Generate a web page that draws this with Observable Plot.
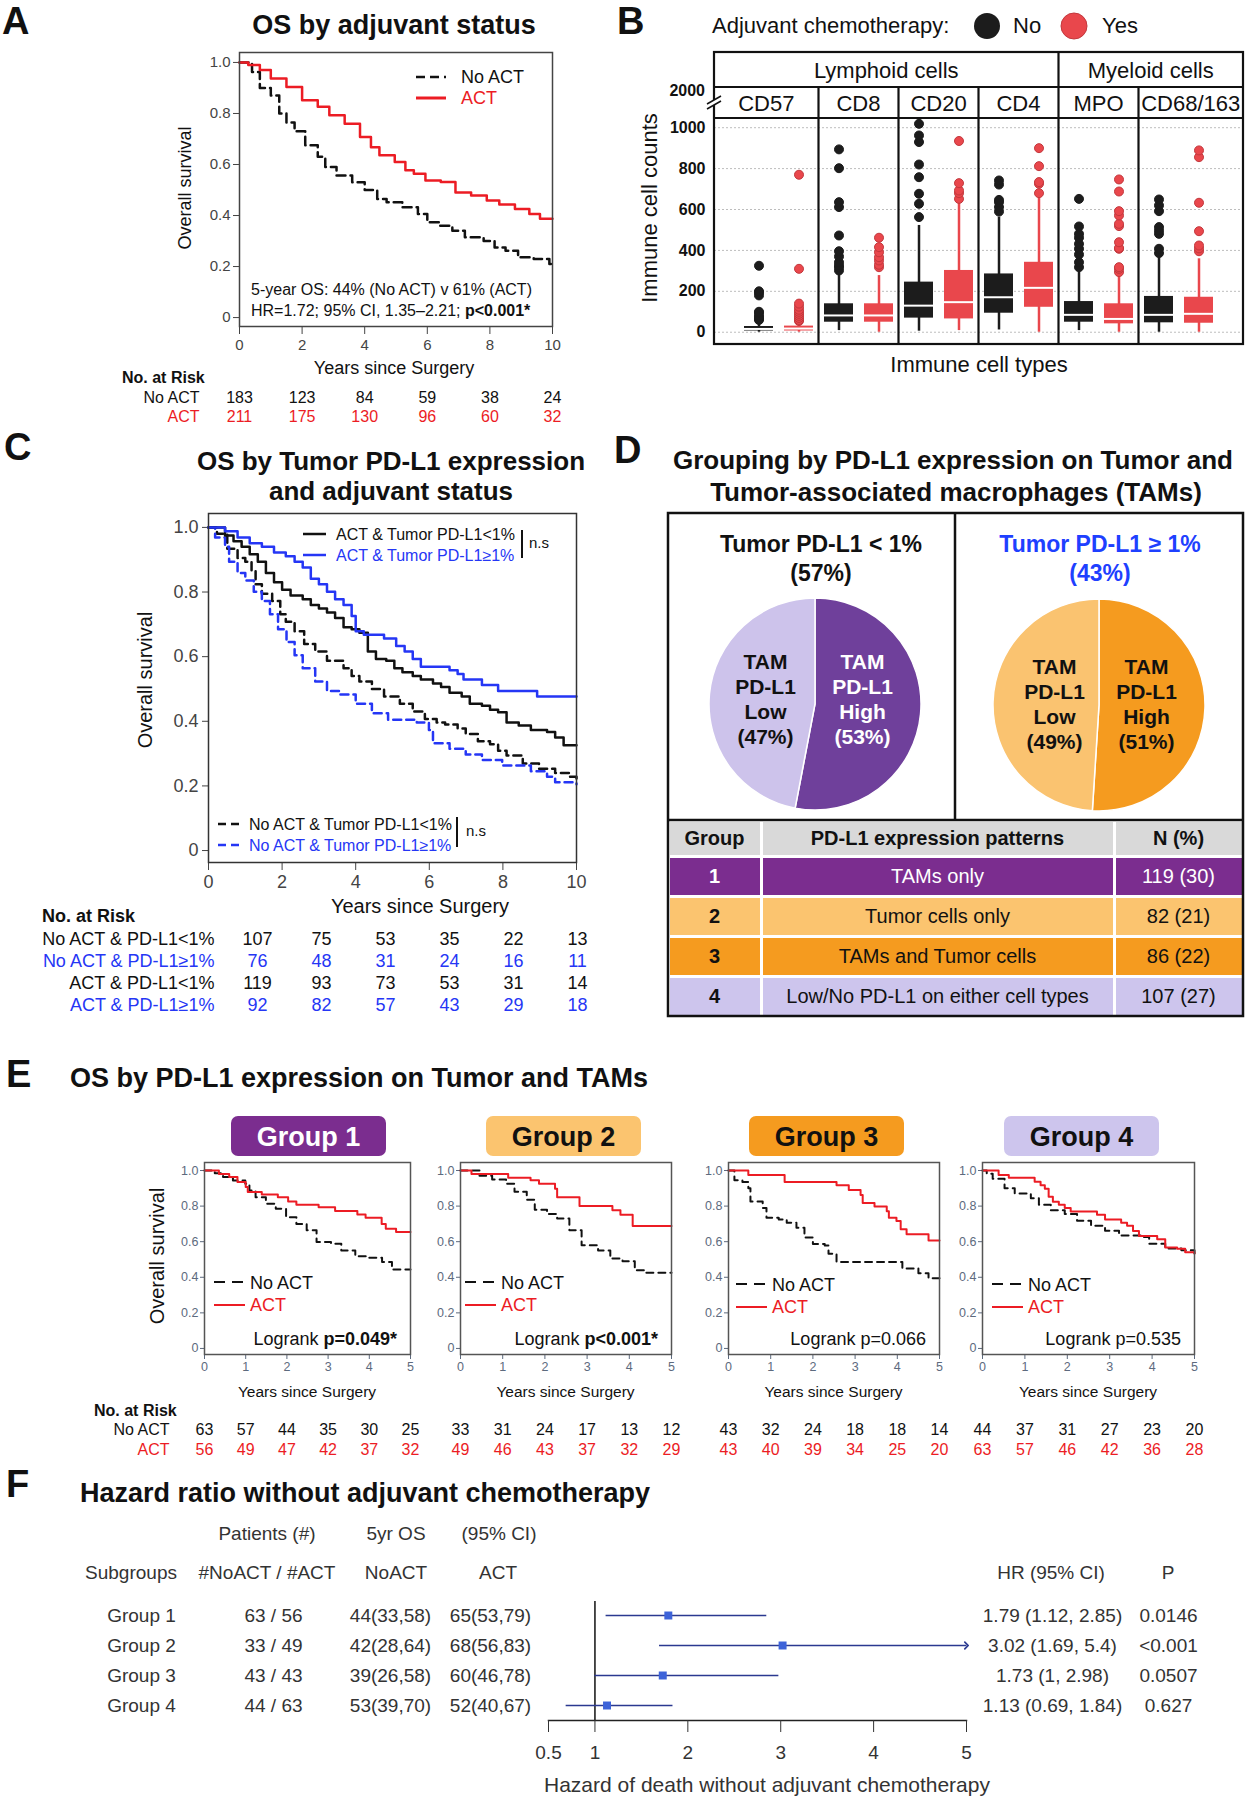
<!DOCTYPE html>
<html>
<head>
<meta charset="utf-8">
<script src="https://cdn.jsdelivr.net/npm/d3@7"></script>
<script src="https://cdn.jsdelivr.net/npm/@observablehq/plot@0.6"></script>
<style>
html,body{margin:0;padding:0;background:#fff;}
#root{position:relative;width:1248px;height:1800px;background:#fff;overflow:hidden;font-family:"Liberation Sans",Arial,Helvetica,sans-serif;}
#root > svg, #root > div{position:absolute;}
</style>
</head>
<body>
<div id="root"></div>
<script>
// ====================== DATA ======================
// ---- Panel A: OS by adjuvant status (KM) ----
const aTimesNoACT = [0,0.4,0.65,1.0,1.27,1.5,1.76,2.1,2.5,2.74,3.1,3.6,4.0,4.4,4.7,5.2,5.7,6.0,6.4,6.8,7.2,7.8,8.15,8.5,8.9,9.4,9.9,10];
const aSurvNoACT  = [1,0.963,0.90,0.87,0.80,0.765,0.73,0.675,0.63,0.59,0.557,0.53,0.50,0.465,0.452,0.432,0.406,0.374,0.36,0.34,0.315,0.30,0.275,0.262,0.236,0.23,0.21,0.21];
const aTimesACT   = [0,0.28,0.65,1.0,1.5,2.0,2.5,2.87,3.36,3.85,4.2,4.47,4.96,5.3,5.57,5.94,6.43,6.9,7.4,7.9,8.3,8.8,9.26,9.6,10];
const aSurvACT    = [1,0.99,0.97,0.937,0.904,0.852,0.826,0.793,0.76,0.708,0.668,0.636,0.61,0.577,0.564,0.537,0.531,0.49,0.478,0.459,0.443,0.426,0.406,0.387,0.387];
const aRiskTimes  = [0,2,4,6,8,10];
const aRiskNoACT  = [183,123,84,59,38,24];
const aRiskACT    = [211,175,130,96,60,32];

// ---- Panel B: immune cell counts (box stats) ----
const bCells  = ["CD57","CD8","CD20","CD4","MPO","CD68/163"];
const bLineages = ["Lymphoid cells","Myeloid cells"];
const bLineageSize = [4,2];
const bGroups = ["No","Yes"];
// order: CD57-No, CD57-Yes, CD8-No, CD8-Yes, CD20-No, CD20-Yes, CD4-No, CD4-Yes, MPO-No, MPO-Yes, CD68-No, CD68-Yes
const bLow  = [0,0,8,0,5,8,11,0,8,0,0,0];
const bQ1   = [6,6,49,49,69,65,93,122,49,41,46,44];
const bMed  = [16,18,82,82,130,147,171,217,85,65,85,90];
const bQ3   = [28,30,139,139,245,302,285,342,150,139,175,171];
const bHigh = [50,50,285,277,522,631,563,660,310,295,383,359];
const bOutliers = [
  [60,65,75,80,95,100,180,195,200,325],
  [55,60,70,80,90,100,110,125,140,310,770],
  [302,318,326,342,370,396,473,612,636,802,894],
  [318,330,351,367,391,416,462],
  [563,628,677,758,820,930,962,1019],
  [652,680,693,729,935],
  [590,612,636,647,722,742],
  [680,726,734,812,900],
  [318,342,380,408,432,462,481,517,652],
  [294,310,318,408,412,440,519,530,571,592,688,747],
  [387,408,481,497,514,592,620,649],
  [396,410,424,494,633,856,889]
];
const bYTicks = [0,200,400,600,800,1000];

// ---- Panel C: OS by tumor PD-L1 and adjuvant status ----
const cActLowT  = [0,0.34,0.45,0.68,0.9,1.12,1.34,1.56,1.78,2.0,2.23,2.56,2.78,3.0,3.22,3.44,3.67,3.89,4.1,4.33,4.55,4.83,5.05,5.27,5.55,5.77,6.1,6.32,6.55,6.88,7.1,7.43,7.65,7.87,8.1,8.43,8.76,9.2,9.42,9.65,10];
const cActLowS  = [1,1,0.975,0.957,0.94,0.917,0.894,0.859,0.83,0.807,0.789,0.778,0.76,0.749,0.737,0.72,0.691,0.685,0.674,0.616,0.593,0.587,0.564,0.552,0.54,0.529,0.517,0.506,0.488,0.477,0.454,0.448,0.436,0.428,0.396,0.387,0.373,0.367,0.35,0.326,0.326];
const cActHighT = [0,0.45,0.79,1.12,1.45,1.78,2.1,2.34,2.56,2.78,3.0,3.22,3.44,3.67,3.89,4.0,4.22,4.77,5.1,5.33,5.55,5.77,6.55,6.77,6.93,7.43,7.87,8.93,10];
const cActHighS = [1,0.988,0.969,0.951,0.94,0.922,0.911,0.894,0.876,0.841,0.824,0.801,0.778,0.76,0.726,0.679,0.668,0.656,0.633,0.616,0.593,0.569,0.558,0.546,0.529,0.512,0.494,0.477,0.477];
const cNoLowT   = [0,0.23,0.51,0.79,1.0,1.17,1.28,1.45,1.73,1.95,2.1,2.34,2.6,2.9,3.22,3.67,3.89,4.1,4.44,4.77,5.2,5.55,5.88,6.2,6.43,6.77,6.99,7.32,7.65,7.87,8.1,8.54,8.98,9.42,9.8,10];
const cNoLowS   = [1,0.98,0.934,0.905,0.894,0.865,0.824,0.795,0.772,0.731,0.708,0.679,0.639,0.616,0.587,0.564,0.54,0.523,0.5,0.477,0.454,0.43,0.407,0.396,0.39,0.378,0.361,0.338,0.329,0.309,0.294,0.269,0.253,0.24,0.228,0.216];
const cNoHighT  = [0,0.18,0.45,0.56,0.79,1.0,1.23,1.45,1.67,1.89,2.12,2.34,2.56,2.9,3.22,3.55,4.0,4.44,4.88,5.66,5.99,6.1,6.55,6.99,7.43,7.98,8.76,9.2,9.42,10];
const cNoHighS  = [1,0.969,0.94,0.894,0.859,0.836,0.801,0.772,0.731,0.685,0.645,0.604,0.564,0.523,0.494,0.483,0.454,0.425,0.405,0.396,0.373,0.332,0.315,0.297,0.28,0.263,0.245,0.228,0.211,0.205];
const cRiskNames = ["No ACT & PD-L1<1%","No ACT & PD-L1≥1%","ACT & PD-L1<1%","ACT & PD-L1≥1%"];
const cRiskTimes = [0,2,4,6,8,10];
const cRiskCounts = [[107,75,53,35,22,13],[76,48,31,24,16,11],[119,93,73,53,31,14],[92,82,57,43,29,18]];

// ---- Panel D: grouping ----
const dPieTitles = ["Tumor PD-L1 < 1%","Tumor PD-L1 ≥ 1%"];
const dPieShares = [57,43];
const dSliceNames = ["High","Low"];
const dLeftPct  = [53,47];
const dRightPct = [51,49];
const dGroupIds = [1,2,3,4];
const dPatterns = ["TAMs only","Tumor cells only","TAMs and Tumor cells","Low/No PD-L1 on either cell types"];
const dN   = [119,82,86,107];
const dPct = [30,21,22,27];
const dHeader = ["Group","PD-L1 expression patterns","N (%)"];

// ---- Panel E: OS by group (KM, 5 years) ----
const eGroupNames = ["Group 1","Group 2","Group 3","Group 4"];
const e1ActT = [0,0.35,0.6,0.8,1.0,1.05,1.39,1.78,2.03,2.23,2.77,3.17,3.71,3.91,4.3,4.4,4.65,5];
const e1ActS = [1,0.98,0.963,0.935,0.907,0.879,0.865,0.85,0.826,0.807,0.794,0.772,0.753,0.735,0.70,0.673,0.654,0.654];
const e1NoT  = [0,0.25,0.45,0.69,0.99,1.09,1.24,1.49,1.73,1.98,2.23,2.48,2.72,3.07,3.32,3.66,3.96,4.31,4.55,5];
const e1NoS  = [1,0.985,0.963,0.944,0.925,0.888,0.85,0.813,0.785,0.738,0.70,0.664,0.598,0.589,0.551,0.518,0.51,0.486,0.443,0.443];
const e2ActT = [0,0.26,1.13,1.66,1.86,2.24,2.29,2.82,3.6,3.79,4.08,5];
const e2ActS = [1,0.98,0.96,0.945,0.925,0.897,0.85,0.80,0.776,0.752,0.688,0.688];
const e2NoT  = [0,0.45,0.75,1.08,1.28,1.57,1.76,2.05,2.29,2.58,2.87,3.26,3.55,3.84,4.13,4.37,5];
const e2NoS  = [1,0.97,0.95,0.925,0.88,0.835,0.78,0.755,0.73,0.664,0.58,0.551,0.505,0.49,0.44,0.426,0.426];
const e3ActT = [0,0.47,1.33,2.56,2.85,3.13,3.18,3.46,3.75,3.8,3.98,4.08,4.22,4.74,5];
const e3ActS = [1,0.975,0.936,0.917,0.89,0.862,0.817,0.798,0.771,0.734,0.716,0.67,0.642,0.606,0.606];
const e3NoT  = [0,0.14,0.33,0.47,0.52,0.81,0.9,1.19,1.38,1.61,1.8,2.0,2.28,2.37,2.56,4.12,4.5,4.74,5];
const e3NoS  = [1,0.945,0.936,0.9,0.826,0.789,0.734,0.725,0.706,0.679,0.624,0.587,0.578,0.532,0.486,0.45,0.422,0.394,0.394];
const e4ActT = [0,0.38,0.62,1.23,1.37,1.47,1.56,1.66,1.8,1.94,2.08,2.7,2.89,3.27,3.41,3.55,3.69,4.12,4.31,4.59,4.78,5];
const e4ActS = [1,0.975,0.96,0.937,0.917,0.898,0.853,0.825,0.807,0.789,0.77,0.751,0.725,0.707,0.69,0.66,0.632,0.614,0.567,0.56,0.54,0.534];
const e4NoT  = [0,0.1,0.24,0.52,0.76,1.14,1.33,1.61,1.94,2.23,2.56,2.89,3.22,3.74,3.93,4.31,4.69,5];
const e4NoS  = [1,0.982,0.954,0.9,0.871,0.844,0.807,0.777,0.755,0.718,0.69,0.662,0.635,0.626,0.589,0.562,0.552,0.534];
const eRiskTimes = [0,1,2,3,4,5];
const eRiskNoACT = [[63,57,44,35,30,25],[33,31,24,17,13,12],[43,32,24,18,18,14],[44,37,31,27,23,20]];
const eRiskACT   = [[56,49,47,42,37,32],[49,46,43,37,32,29],[43,40,39,34,25,20],[63,57,46,42,36,28]];
const eLogrankP    = ["p=0.049*","p<0.001*","p=0.066","p=0.535"];
const eLogrankSig  = [true,true,false,false];

// ---- Panel F: forest plot ----
const fGroups   = ["Group 1","Group 2","Group 3","Group 4"];
const fPatients = ["63 / 56","33 / 49","43 / 43","44 / 63"];
const fOSNoACT  = ["44(33,58)","42(28,64)","39(26,58)","53(39,70)"];
const fOSACT    = ["65(53,79)","68(56,83)","60(46,78)","52(40,67)"];
const fHR = [1.79,3.02,1.73,1.13];
const fLo = [1.12,1.69,1,0.69];
const fHi = [2.85,5.4,2.98,1.84];
const fP  = ["0.0146","<0.001","0.0507","0.627"];
const fTicks = [0.5,1,2,3,4,5];

// ====================== STYLE ======================
const FONT = "'Liberation Sans', Arial, Helvetica, sans-serif";
const RED = "#ec1c24", BLUE = "#2536f5", INK = "#111";
const B_NO = "#1c1c1c", B_YES = "#e9474c", B_YES_EDGE = "#c3383d";
const groupFill = ["#7b2d8f","#fbc46f","#f59b1f","#cdc5ed"];
const groupInk  = ["#fff","#111","#111","#111"];
const survTicks = [0,0.2,0.4,0.6,0.8,1];
const fmtSurv = d => d === 0 ? "0" : d.toFixed(1);
const fmtPlain = d => String(d);
const baseStyle = {background: "transparent", fontFamily: FONT, overflow: "visible", color: "#222"};

const root = document.getElementById("root");
function put(node, left, top) {
  node.style.position = "absolute"; node.style.left = left + "px"; node.style.top = top + "px";
  root.appendChild(node); return node;
}
function km(times, surv) { return times.map((t, i) => ({t, s: surv[i]})); }

// overlay for titles / legends
const ov = d3.create("svg").attr("width", 1248).attr("height", 1800).attr("font-family", FONT)
  .style("position", "absolute").style("left", "0px").style("top", "0px").style("overflow", "visible");
function text(x, y, s, o = {}) {
  const t = ov.append("text").attr("x", x).attr("y", y)
    .attr("font-size", o.size || 16).attr("font-weight", o.bold ? "bold" : "normal")
    .attr("text-anchor", o.anchor || "start").attr("fill", o.color || INK);
  if (Array.isArray(s)) s.forEach(([str, b]) => t.append("tspan").attr("font-weight", b ? "bold" : "normal").text(str));
  else t.text(s);
  if (o.rotate) t.attr("transform", `rotate(${o.rotate},${x},${y})`);
  return t;
}
function seg(x1, y1, x2, y2, o = {}) {
  ov.append("line").attr("x1", x1).attr("y1", y1).attr("x2", x2).attr("y2", y2)
    .attr("stroke", o.color || INK).attr("stroke-width", o.width || 2)
    .attr("stroke-dasharray", o.dash || null);
}
function box(x, y, w, h, o = {}) {
  ov.append("rect").attr("x", x).attr("y", y).attr("width", w).attr("height", h)
    .attr("rx", o.rx || 0).attr("fill", o.fill || "none")
    .attr("stroke", o.stroke || "none").attr("stroke-width", o.width || 0);
}

// generic KM chart placed so its frame lands at [fx0,fx1]x[fy0,fy1]
function kmChart(o) {
  const mL = 60, mR = 20, mT = 10, mB = 45;
  const width = mL + (o.fx1 - o.fx0) + mR, height = mT + (o.fy1 - o.fy0) + mB;
  const p = Plot.plot({
    width, height, marginLeft: mL, marginRight: mR, marginTop: mT, marginBottom: mB,
    x: {domain: [0, o.xMax]}, y: {domain: o.yDomain}, style: baseStyle,
    marks: [
      Plot.axisY({ticks: survTicks, tickFormat: fmtSurv, tickSize: o.yTickSize, tickPadding: o.yPad, fontSize: o.font, color: o.tickColor, label: null}),
      Plot.axisX({ticks: o.xTicks, tickFormat: fmtPlain, tickSize: o.xTickSize, tickPadding: o.xPad, fontSize: o.font, color: o.tickColor, label: null}),
      ...o.lines.map(l => Plot.line(l.data, {x: "t", y: "s", curve: "step-after", stroke: l.color, strokeWidth: l.width, strokeDasharray: l.dash || null})),
      Plot.frame({stroke: o.frame, strokeWidth: 1.5})
    ]
  });
  put(p, o.fx0 - mL, o.fy0 - mT);
  return p;
}
// risk table aligned to an x range
function riskChart(o) {
  const mL = 60, mR = 20;
  const width = mL + (o.x1 - o.x0) + mR;
  const rowsData = o.rows.flatMap(r => o.times.map((t, i) => ({row: r.name, t, n: r.counts[i], color: r.color})));
  const marks = [Plot.text(rowsData, {x: "t", y: "row", text: "n", fill: "color", fontSize: o.font})];
  if (o.labelDx != null) marks.push(Plot.text(o.rows, {y: "name", text: "name", fill: "color", frameAnchor: "left", dx: o.labelDx, textAnchor: "end", fontSize: o.font}));
  const p = Plot.plot({
    width, height: o.height, marginLeft: mL, marginRight: mR, marginTop: 0, marginBottom: 0,
    x: {domain: [0, o.xMax], axis: null},
    y: {type: "point", domain: o.rows.map(r => r.name), range: o.yRange, padding: 0, axis: null},
    color: {type: "identity"}, style: baseStyle, marks
  });
  put(p, o.x0 - mL, o.top);
}

// ====================== PANEL A ======================
text(2, 34, "A", {size: 38, bold: true});
text(394, 34, "OS by adjuvant status", {size: 27, bold: true, anchor: "middle"});
kmChart({fx0: 239, fx1: 552, fy0: 52, fy1: 326, xMax: 10, xTicks: aRiskTimes, yDomain: [-0.035, 1.039],
  yTickSize: 6, yPad: 3, xTickSize: 8, xPad: 5, font: 15, tickColor: "#444", frame: "#444",
  lines: [
    {data: km(aTimesNoACT, aSurvNoACT), color: "#111", width: 2.5, dash: "9,5"},
    {data: km(aTimesACT, aSurvACT), color: RED, width: 2.5}
  ]});
text(191, 188, "Overall survival", {size: 18, anchor: "middle", rotate: -90});
text(394, 374, "Years since Surgery", {size: 18, anchor: "middle"});
seg(416, 77, 446, 77, {dash: "9,5", width: 2.5});
text(461, 83, "No ACT", {size: 18});
seg(416, 98, 446, 98, {color: RED, width: 3});
text(461, 104, "ACT", {size: 18, color: RED});
text(251, 295, "5-year OS: 44% (No ACT) v 61% (ACT)", {size: 16});
text(251, 316, [["HR=1.72; 95% CI, 1.35–2.21; ", false], ["p<0.001*", true]], {size: 16});
text(122, 383, "No. at Risk", {size: 16, bold: true});
riskChart({x0: 239, x1: 552, xMax: 10, top: 380, height: 50, yRange: [17, 36], font: 16, times: aRiskTimes, labelDx: -40,
  rows: [{name: "No ACT", counts: aRiskNoACT, color: "#111"}, {name: "ACT", counts: aRiskACT, color: RED}]});

// ====================== PANEL B ======================
text(617, 34, "B", {size: 38, bold: true});
text(712, 33, "Adjuvant chemotherapy:", {size: 22});
ov.append("circle").attr("cx", 987).attr("cy", 26).attr("r", 13).attr("fill", B_NO);
text(1013, 33, bGroups[0], {size: 22});
ov.append("circle").attr("cx", 1074).attr("cy", 26).attr("r", 13).attr("fill", B_YES).attr("stroke", B_YES_EDGE).attr("stroke-width", 1);
text(1102, 33, bGroups[1], {size: 22});

const bKeys = bCells.flatMap(c => bGroups.map(g => c + "|" + g));
const bStats = bKeys.map((k, i) => ({key: k, lo: bLow[i], q1: bQ1[i], med: bMed[i], q3: bQ3[i], hi: bHigh[i], color: k.endsWith("|No") ? B_NO : B_YES}));
const bOut = bKeys.flatMap((k, i) => bOutliers[i].map(v => ({key: k, v, color: k.endsWith("|No") ? B_NO : B_YES, edge: k.endsWith("|No") ? B_NO : B_YES_EDGE})));
const B_LEFT = 600;
const bPlot = Plot.plot({
  width: 648, height: 400, marginLeft: 114, marginRight: 5, marginTop: 118, marginBottom: 56,
  x: {type: "band", domain: bKeys, paddingInner: 0.28, paddingOuter: 0.7, axis: null},
  y: {domain: [-60, 1045]},
  color: {type: "identity"}, style: baseStyle,
  marks: [
    Plot.gridY(bYTicks, {stroke: "#bdbdbd", strokeOpacity: 1, strokeDasharray: "2,2"}),
    Plot.axisY({ticks: bYTicks, tickFormat: fmtPlain, tickSize: 0, tickPadding: 9, fontSize: 16, fontWeight: "bold", color: "#111", label: null}),
    Plot.ruleX(bStats, {x: "key", y1: "lo", y2: "hi", stroke: "color", strokeWidth: 2.5}),
    Plot.barY(bStats, {x: "key", y1: "q1", y2: "q3", fill: "color"}),
    Plot.tickY(bStats, {x: "key", y: "med", stroke: "#fff", strokeWidth: 2}),
    Plot.dot(bOut, {x: "key", y: "v", r: 4.5, fill: "color", stroke: "edge", strokeWidth: 1})
  ]
});
put(bPlot, B_LEFT, 0);
// facet boundaries derived from the band scale
(function () {
  const xs = bPlot.scale("x");
  let pos, bw;
  if (xs && typeof xs.apply === "function" && xs.bandwidth != null) {
    pos = k => B_LEFT + xs.apply(k); bw = xs.bandwidth;
  } else {
    const sb = d3.scaleBand().domain(bKeys).range([114, 643]).paddingInner(0.28).paddingOuter(0.7);
    pos = k => B_LEFT + sb(k); bw = sb.bandwidth();
  }
  const L = 714, R = 1243;
  const bounds = [L];
  for (let i = 0; i < bCells.length - 1; i++) bounds.push((pos(bCells[i] + "|Yes") + bw + pos(bCells[i + 1] + "|No")) / 2);
  bounds.push(R);
  box(L, 52, R - L, 292, {stroke: "#111", width: 2.2});
  seg(L, 87, R, 87, {width: 2.2});
  seg(L, 118, R, 118, {width: 2.2});
  let start = 0;
  bLineages.forEach((name, j) => {
    const a = bounds[start], b = bounds[start + bLineageSize[j]];
    text((a + b) / 2, 78, name, {size: 22, anchor: "middle"});
    if (j > 0) seg(a, 52, a, 344, {width: 2.2});
    start += bLineageSize[j];
  });
  for (let i = 1; i < bounds.length - 1; i++) if (i !== bLineageSize[0]) seg(bounds[i], 87, bounds[i], 344, {width: 2.2});
  bCells.forEach((c, i) => text((bounds[i] + bounds[i + 1]) / 2, 111, c, {size: 22, anchor: "middle"}));
})();
text(705, 96, "2000", {size: 16, bold: true, anchor: "end"});
ov.append("polygon").attr("points", "707,104 721,96 721,101 707,109").attr("fill", "#fff");
seg(707, 104, 721, 96, {width: 1.6});
seg(707, 109, 721, 101, {width: 1.6});
text(657, 208, "Immune cell counts", {size: 22, anchor: "middle", rotate: -90});
text(979, 372, "Immune cell types", {size: 22, anchor: "middle"});

// ====================== PANEL C ======================
text(4, 460, "C", {size: 38, bold: true});
text(391, 470, "OS by Tumor PD-L1 expression", {size: 26, bold: true, anchor: "middle"});
text(391, 500, "and adjuvant status", {size: 26, bold: true, anchor: "middle"});
kmChart({fx0: 208, fx1: 576, fy0: 513, fy1: 862, xMax: 10, xTicks: cRiskTimes, yDomain: [-0.037, 1.043],
  yTickSize: 6, yPad: 4, xTickSize: 8, xPad: 5, font: 18, tickColor: "#444", frame: "#333",
  lines: [
    {data: km(cNoLowT, cNoLowS), color: "#111", width: 2.5, dash: "8,5"},
    {data: km(cNoHighT, cNoHighS), color: BLUE, width: 2.5, dash: "8,5"},
    {data: km(cActLowT, cActLowS), color: "#111", width: 2.5},
    {data: km(cActHighT, cActHighS), color: BLUE, width: 2.5}
  ]});
text(152, 680, "Overall survival", {size: 20, anchor: "middle", rotate: -90});
text(420, 913, "Years since Surgery", {size: 20, anchor: "middle"});
seg(303, 534, 326, 534, {width: 2.5});
text(336, 540, "ACT & Tumor PD-L1<1%", {size: 16});
seg(303, 555, 326, 555, {width: 2.5, color: BLUE});
text(336, 561, "ACT & Tumor PD-L1≥1%", {size: 16, color: BLUE});
seg(522, 530, 522, 558, {width: 2});
text(529, 548, "n.s", {size: 15});
seg(218, 824, 241, 824, {width: 2.5, dash: "8,5"});
text(249, 830, "No ACT & Tumor PD-L1<1%", {size: 16});
seg(218, 845, 241, 845, {width: 2.5, dash: "8,5", color: BLUE});
text(249, 851, "No ACT & Tumor PD-L1≥1%", {size: 16, color: BLUE});
seg(457, 817, 457, 847, {width: 2});
text(466, 836, "n.s", {size: 15});
text(42, 922, "No. at Risk", {size: 18, bold: true});
riskChart({x0: 257, x1: 577, xMax: 10, top: 920, height: 100, yRange: [18, 85.5], font: 18, times: cRiskTimes, labelDx: -43,
  rows: cRiskNames.map((n, i) => ({name: n, counts: cRiskCounts[i], color: i % 2 ? BLUE : "#111"}))});

// ====================== PANEL D ======================
text(614, 463, "D", {size: 38, bold: true});
text(953, 469, "Grouping by PD-L1 expression on Tumor and", {size: 26, bold: true, anchor: "middle"});
text(956, 501, "Tumor-associated macrophages (TAMs)", {size: 26, bold: true, anchor: "middle"});
text(821, 552, dPieTitles[0], {size: 23, bold: true, anchor: "middle"});
text(821, 581, `(${dPieShares[0]}%)`, {size: 23, bold: true, anchor: "middle"});
text(1100, 552, dPieTitles[1], {size: 23, bold: true, anchor: "middle", color: "#1e40ff"});
text(1100, 581, `(${dPieShares[1]}%)`, {size: 23, bold: true, anchor: "middle", color: "#1e40ff"});

function pieChart(values, colors, inks, offsets, left, top) {
  const p = Plot.plot({
    width: 240, height: 240, margin: 0, style: baseStyle,
    marks: [
      (index, scales, vals, dims) => {
        const g = d3.create("svg:g").attr("transform", `translate(${dims.width / 2},${dims.height / 2})`);
        const arcs = d3.pie().sort(null)(values);
        g.selectAll("path").data(arcs).join("path")
          .attr("d", d3.arc().innerRadius(0).outerRadius(106))
          .attr("fill", (d, i) => colors[i]).attr("stroke", "#fff").attr("stroke-width", 1.5);
        return g.node();
      },
      ...values.map((v, i) => Plot.text([`TAM\nPD-L1\n${dSliceNames[i]}\n(${v}%)`], {
        text: d => d, frameAnchor: "middle", dx: offsets[i][0], dy: offsets[i][1],
        fill: inks[i], fontSize: 21, fontWeight: "bold", lineHeight: 1.2
      }))
    ]
  });
  put(p, left, top);
}
pieChart(dLeftPct, ["#6f409b", "#cdc3eb"], ["#fff", "#111"], [[47, -6], [-50, -6]], 695, 584);
pieChart(dRightPct, ["#f59b1f", "#fac370"], ["#111", "#111"], [[47, -2], [-45, -2]], 979, 585);

// table
(function () {
  const cols = [668, 761, 1114, 1243];
  const rowsY = [820, 856, 896, 936, 976, 1016];
  const bg = document.createElement("div");
  Object.assign(bg.style, {left: "668px", top: "820px", width: "575px", height: "196px", background: "#fff"});
  root.appendChild(bg);
  function cell(c, r, txt, fill, ink, bold) {
    const d = document.createElement("div");
    Object.assign(d.style, {
      left: (cols[c] + 1.5) + "px", top: (rowsY[r] + 1.5) + "px",
      width: (cols[c + 1] - cols[c] - 3) + "px", height: (rowsY[r + 1] - rowsY[r] - 3) + "px",
      background: fill, color: ink, fontWeight: bold ? "bold" : "normal", fontSize: "20px",
      display: "flex", alignItems: "center", justifyContent: "center", fontFamily: FONT, whiteSpace: "nowrap"
    });
    d.textContent = txt; root.appendChild(d);
  }
  dHeader.forEach((h, c) => cell(c, 0, h, "#d9d9d9", "#111", true));
  dGroupIds.forEach((g, i) => {
    cell(0, i + 1, String(g), groupFill[i], groupInk[i], true);
    cell(1, i + 1, dPatterns[i], groupFill[i], groupInk[i], false);
    cell(2, i + 1, `${dN[i]} (${dPct[i]})`, groupFill[i], groupInk[i], false);
  });
})();
box(668, 513, 575, 503, {stroke: "#111", width: 2.5});
seg(668, 820, 1243, 820, {width: 2.5});
seg(955, 513, 955, 820, {width: 2.5});

// ====================== PANEL E ======================
text(6, 1087, "E", {size: 38, bold: true});
text(70, 1087, "OS by PD-L1 expression on Tumor and TAMs", {size: 27, bold: true});
const eFX0 = [204, 460, 728, 982], eFX1 = [410, 671, 939, 1194];
const eBoxX0 = [231, 486, 749, 1004];
const eLegOff = [10, 5, 8, 10];
const eSeries = [[e1NoT, e1NoS, e1ActT, e1ActS], [e2NoT, e2NoS, e2ActT, e2ActS], [e3NoT, e3NoS, e3ActT, e3ActS], [e4NoT, e4NoS, e4ActT, e4ActS]];
eGroupNames.forEach((name, g) => {
  const x0 = eFX0[g], x1 = eFX1[g];
  const s = eSeries[g];
  kmChart({fx0: x0, fx1: x1, fy0: 1162, fy1: 1354, xMax: 5, xTicks: eRiskTimes, yDomain: [-0.034, 1.045],
    yTickSize: 4, yPad: 2, xTickSize: 5, xPad: 3, font: 12.5, tickColor: "#5d6a7e", frame: "#555",
    lines: [
      {data: km(s[0], s[1]), color: "#111", width: 2, dash: "7,5"},
      {data: km(s[2], s[3]), color: RED, width: 2}
    ]});
  box(eBoxX0[g], 1116, 155, 40, {fill: groupFill[g], rx: 7});
  text(eBoxX0[g] + 77.5, 1146, name, {size: 27, bold: true, anchor: "middle", color: groupInk[g]});
  const off = eLegOff[g], dy = g >= 2 ? 2 : 0;
  seg(x0 + off, 1282 + dy, x0 + off + 31, 1282 + dy, {dash: "11,7", width: 2});
  text(x0 + off + 36, 1289 + dy, "No ACT", {size: 18});
  seg(x0 + off, 1305 + dy, x0 + off + 31, 1305 + dy, {color: RED, width: 2});
  text(x0 + off + 36, 1311 + dy, "ACT", {size: 18, color: RED});
  text(x1 - 13, 1345, [["Logrank ", false], [eLogrankP[g], eLogrankSig[g]]], {size: 18, anchor: "end"});
  text((x0 + x1) / 2, 1397, "Years since Surgery", {size: 15.5, anchor: "middle"});
  riskChart({x0, x1, xMax: 5, top: 1410, height: 50, yRange: [19, 39], font: 16, times: eRiskTimes, labelDx: g === 0 ? -35 : null,
    rows: [{name: "No ACT", counts: eRiskNoACT[g], color: "#111"}, {name: "ACT", counts: eRiskACT[g], color: RED}]});
});
text(164, 1256, "Overall survival", {size: 20, anchor: "middle", rotate: -90});
text(94, 1416, "No. at Risk", {size: 16, bold: true});

// ====================== PANEL F ======================
text(6, 1497, "F", {size: 38, bold: true});
text(80, 1502, "Hazard ratio without adjuvant chemotherapy", {size: 27, bold: true});
const GRAY = "#333";
text(267, 1540, "Patients (#)", {size: 19, anchor: "middle", color: GRAY});
text(396, 1540, "5yr OS", {size: 19, anchor: "middle", color: GRAY});
text(499, 1540, "(95% CI)", {size: 19, anchor: "middle", color: GRAY});
text(131, 1579, "Subgroups", {size: 19, anchor: "middle", color: GRAY});
text(267, 1579, "#NoACT / #ACT", {size: 19, anchor: "middle", color: GRAY});
text(396, 1579, "NoACT", {size: 19, anchor: "middle", color: GRAY});
text(498, 1579, "ACT", {size: 19, anchor: "middle", color: GRAY});
text(1051, 1579, "HR (95% CI)", {size: 19, anchor: "middle", color: GRAY});
text(1168, 1579, "P", {size: 19, anchor: "middle", color: GRAY});

const fRows = fGroups.map((g, i) => ({g, hr: fHR[i], lo: fLo[i], hi: fHi[i], pts: fPatients[i], osNo: fOSNoACT[i], osAct: fOSACT[i],
  hrText: `${fHR[i]} (${fLo[i]}, ${fHi[i]})`, p: fP[i]}));
const fXMax = fTicks[fTicks.length - 1];
const F_ML = 548;
const fCols = [["g", 141], ["pts", 273], ["osNo", 390], ["osAct", 490], ["hrText", 1052], ["p", 1168]];
const fPlot = Plot.plot({
  width: 1248, height: 210, marginLeft: F_ML, marginRight: 282, marginTop: 11, marginBottom: 80,
  x: {domain: [fTicks[0], fXMax]},
  y: {type: "point", domain: fGroups, range: [24, 116], padding: 0, axis: null},
  style: baseStyle,
  marks: [
    Plot.ruleX([1], {stroke: "#111", strokeWidth: 1.5}),
    Plot.frame({anchor: "bottom", stroke: "#222", strokeWidth: 1.5}),
    Plot.axisX({ticks: fTicks, tickSize: 12, tickPadding: 13, fontSize: 19, color: GRAY, label: null, tickFormat: fmtPlain}),
    Plot.ruleY(fRows.filter(d => d.hi <= fXMax), {y: "g", x1: "lo", x2: "hi", stroke: "#2b3990", strokeWidth: 1.7}),
    Plot.link(fRows.filter(d => d.hi > fXMax), {x1: "lo", x2: () => fXMax, y1: "g", y2: "g", stroke: "#2b3990", strokeWidth: 1.7, markerEnd: "arrow"}),
    Plot.dot(fRows, {x: "hr", y: "g", symbol: "square", r: 4.5, fill: "#3d63d9"}),
    ...fCols.map(([field, cx]) => Plot.text(fRows, {y: "g", text: field, frameAnchor: "left", dx: cx - F_ML, textAnchor: "middle", fontSize: 19, fill: GRAY}))
  ]
});
put(fPlot, 0, 1590);
text(767, 1792, "Hazard of death without adjuvant chemotherapy", {size: 21, anchor: "middle", color: GRAY});

root.appendChild(ov.node());
</script>
</body>
</html>
